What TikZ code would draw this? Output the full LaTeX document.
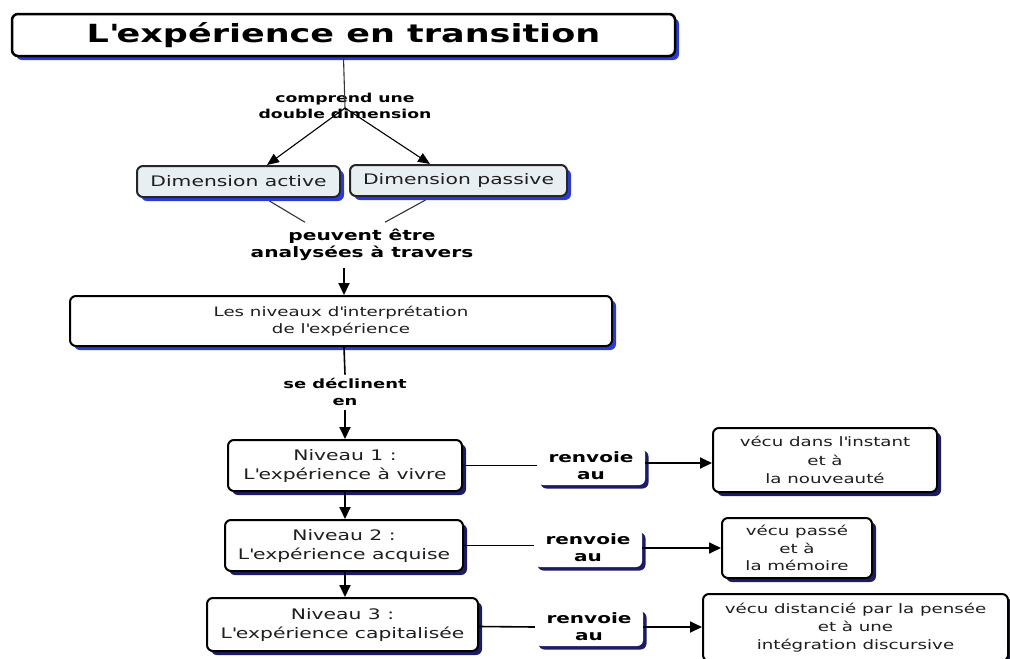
\documentclass[tikz,border=0pt]{standalone}
\usepackage{fontspec}
\setmainfont{DejaVu Sans}[FakeStretch=1.4]
\usetikzlibrary{shadows,arrows.meta,calc}
\definecolor{shblue}{HTML}{2B3BD8}
\definecolor{shnavy}{HTML}{1C1C66}
\definecolor{dimfill}{HTML}{E8EFF3}
\definecolor{txt}{HTML}{1E1E1E}
\newcommand\aq{\textquotesingle}
\tikzset{
  box/.style={draw=black, line width=2pt, rounded corners=6pt, fill=white, align=center,
    inner sep=0pt, text=txt, font=\fontsize{14.5}{19}\selectfont},
  bshadow/.style={drop shadow={shadow xshift=4pt, shadow yshift=-4pt, fill=shblue, opacity=1}},
  nshadow/.style={drop shadow={shadow xshift=4pt, shadow yshift=-4pt, fill=shnavy, opacity=1}},
  lbl/.style={align=center, inner sep=1pt, font=\bfseries\fontsize{12.8}{17}\selectfont, text=black},
  rlbl/.style={fill=white, rounded corners=6pt, align=center, inner sep=0pt,
    minimum width=108pt, minimum height=38pt,
    font=\bfseries\fontsize{14.3}{17}\selectfont,
    drop shadow={shadow xshift=3.5pt, shadow yshift=-3.5pt, fill=shnavy, opacity=1}},
  conn/.style={line width=1.6pt, draw=black},
  arr/.style={line width=1.8pt, draw=black, -{Triangle[length=12pt,width=11pt]}},
  thin/.style={line width=1.1pt, draw=black!80},
  tarr/.style={line width=1.1pt, draw=black, -{Triangle[length=12pt,width=10pt]}}
}
\begin{document}
\begin{tikzpicture}[x=1pt,y=-1pt]
\useasboundingbox (0,0) rectangle (1010,659);
% nodes
\node[box, bshadow, line width=2.5pt, minimum width=663pt, minimum height=42pt,
  font=\bfseries\fontsize{25}{28}\selectfont, text=black] (title) at (343.5,35) {L\aq expérience en transition};
\node[lbl, font=\bfseries\fontsize{12.3}{16}\selectfont] (c1) at (345,106) {comprend une\\double dimension};
\node[box, bshadow, fill=dimfill, draw=black!85, minimum width=203pt, minimum height=31pt] (da) at (238.5,181.5) {Dimension active};
\node[box, bshadow, fill=dimfill, draw=black!85, minimum width=217pt, minimum height=31pt] (dp) at (458.5,180.5) {Dimension passive};
\node[lbl, font=\bfseries\fontsize{14.4}{16.5}\selectfont] (c2) at (362,245) {peuvent être\\analysées à travers};
\node[box, bshadow, minimum width=542pt, minimum height=50pt, font=\fontsize{13}{17}\selectfont] (niv) at (341,321) {Les niveaux d\aq interprétation\\de l\aq expérience};
\node[lbl] (c3) at (345,391.5) {se déclinent\\en};
\node[box, nshadow, minimum width=234pt, minimum height=51pt] (n1) at (345,465.5) {Niveau 1 :\\L\aq expérience à vivre};
\node[box, nshadow, minimum width=238pt, minimum height=51pt] (n2) at (344,545.5) {Niveau 2 :\\L\aq expérience acquise};
\node[box, nshadow, minimum width=271pt, minimum height=53pt] (n3) at (342.5,624.5) {Niveau 3 :\\L\aq expérience capitalisée};
\node[rlbl] (r1) at (591,466) {renvoie\\au};
\node[rlbl] (r2) at (588,548) {renvoie\\au};
\node[rlbl] (r3) at (589,627) {renvoie\\au};
\node[box, nshadow, minimum width=224pt, minimum height=64pt, font=\fontsize{13}{18.5}\selectfont] (v1) at (825,460) {vécu dans l\aq instant\\et à\\la nouveauté};
\node[box, nshadow, minimum width=150pt, minimum height=60pt, font=\fontsize{13}{17.5}\selectfont] (v2) at (797,548) {vécu passé\\et à\\la mémoire};
\node[box, nshadow, minimum width=305pt, minimum height=67pt, font=\fontsize{13}{18}\selectfont] (v3) at (855.5,627.5) {vécu distancié par la pensée\\et à une\\intégration discursive};
% connectors
\draw[thin] (title.south) -- ($(c1.center)+(0,2)$) coordinate (j1);
\draw[tarr] (j1) -- ($(da.north)+(28.5,0)$);
\draw[tarr] (j1) -- ($(dp.north)+(-28.5,0)$);
\draw[thin] ($(da.south)+(31,3)$) -- ($(c2.north)+(-57,-6)$);
\draw[thin] ($(dp.south)+(-33,3)$) -- ($(c2.north)+(23,-6)$);
\draw[arr] ($(c2.south)+(-18,6)$) -- ($(niv.north)+(3,0)$);
\draw[conn] ($(niv.south)+(3,0)$) -- ($(c3.north)+(0,-2)$);
\draw[arr] ($(c3.south)+(0,4)$) -- (n1.north);
\draw[arr] (n1.south) -- (n1.south |- n2.north);
\draw[arr] (n1.south |- n2.south) -- (n1.south |- n3.north);
\draw[conn] (n1.east) -- (n1.east -| r1.west);
\draw[conn] (n2.east) -- (n2.east -| r2.west);
\draw[conn] ($(n3.east)+(0,2)$) -- (r3.west);
\draw[arr] ($(r1.east)+(0,-3)$) -- (v1.west |- 0,463);
\draw[arr] (r2.east) -- (v2.west |- r2.east);
\draw[arr] (r3.east) -- (v3.west |- r3.east);
\end{tikzpicture}
\end{document}
